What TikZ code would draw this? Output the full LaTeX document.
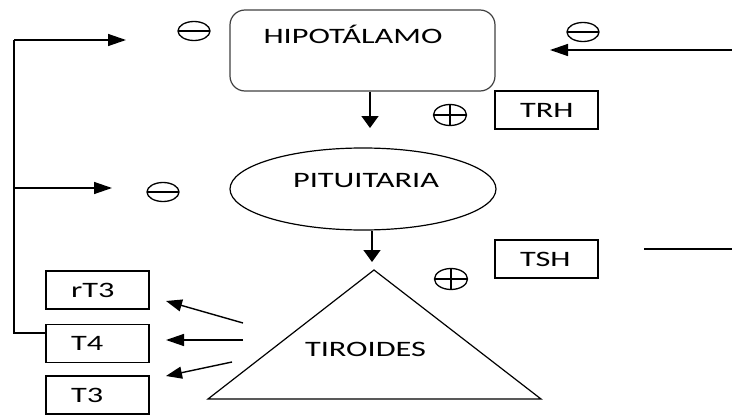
\documentclass[tikz,border=0pt]{standalone}
\usepackage{fontspec}
\newfontfamily\lblfont[FakeStretch=1.47]{Carlito}
\usetikzlibrary{arrows.meta,shapes.geometric}
\begin{document}
\begin{tikzpicture}[x=1pt,y=-1pt,
  lbl/.style={font=\lblfont\fontsize{22}{26}\selectfont, inner sep=0pt},
  labelbox/.style={draw, line width=1.7pt, text width=53pt, align=left, inner xsep=25pt, inner ysep=0pt, minimum height=38pt, font=\lblfont\fontsize{22}{26}\selectfont},
  symminus/.style={draw, ellipse, line width=1.3pt, minimum width=32pt, minimum height=19pt, inner sep=0pt,
    path picture={\draw[line width=1.5pt] (path picture bounding box.west) -- (path picture bounding box.east);}},
  symplus/.style={draw, ellipse, line width=1.3pt, minimum width=33pt, minimum height=21pt, inner sep=0pt,
    path picture={\draw[line width=1.5pt] (path picture bounding box.west) -- (path picture bounding box.east);
                  \draw[line width=1.5pt] (path picture bounding box.north) -- (path picture bounding box.south);}},
  harr/.style={line width=1.4pt, -{Triangle[length=18pt,width=12pt]}},
  varr/.style={line width=1.6pt, -{Triangle[length=12pt,width=17pt]}},
  darr/.style={line width=1.4pt, -{Triangle[length=16pt,width=12pt]}},
  plain/.style={line width=1.4pt}
]
\useasboundingbox (0,0) rectangle (732,415);

% main organs
\node[draw=black!75, line width=1.2pt, rounded corners=15pt, minimum width=265pt, minimum height=81pt, inner sep=0pt] (hip) at (362.5,50.5) {};
\node[lbl, anchor=base] (hipt) at (353,43) {HIPOTÁLAMO};

\node[draw, ellipse, line width=1.2pt, minimum width=266pt, minimum height=82pt, inner sep=0pt] (pit) at (363,189) {};
\node[lbl, anchor=base] (pitt) at (366,187) {PITUITARIA};

\coordinate (tapex) at (374,270);
\coordinate (tleft) at (208,399);
\coordinate (tright) at (541,399);
\draw[line width=1.2pt] (tleft) -- (tapex) -- (tright) -- cycle;
\node[lbl, anchor=base] (tirt) at (365.5,356) {TIROIDES};

% hormone boxes
\node[labelbox] (trh) at (546.5,110) {TRH};
\node[labelbox] (tsh) at (546.5,259) {TSH};
\node[labelbox] (rt3) at (97.5,290) {rT3};
\node[labelbox] (t4) at (97.5,343.5) {T4};
\node[labelbox] (t3) at (97.5,395) {T3};

% signs
\node[symminus] (sm1) at (194,31) {};
\node[symminus] (sm2) at (583,32) {};
\node[symminus] (sm3) at (163,192) {};
\node[symplus] (sp1) at (450,115) {};
\node[symplus] (sp2) at (451,279) {};

% vertical arrows
\coordinate (a1e) at (370,128);
\coordinate (a2e) at (372,262);
\draw[varr] (hip.south -| a1e) -- (a1e);
\draw[varr] (pit.south -| a2e) -- (a2e);

% feedback loop on the left
\coordinate (fbtop) at (14,40);
\coordinate (fbmid) at (14,188);
\coordinate (fbbot) at (14,333);
\coordinate (fa1) at (126,40);
\coordinate (fa2) at (112,188);
\draw[plain] (fbbot -| t4.west) -- (fbbot) -- (fbtop);
\draw[harr] (fbtop) -- (fa1);
\draw[harr] (fbmid) -- (fa2);

% right side
\coordinate (r1s) at (732,50);
\coordinate (r1e) at (550,50);
\draw[harr] (r1s) -- (r1e);
\coordinate (r2s) at (644,249);
\coordinate (r2e) at (732,249);
\draw[plain] (r2s) -- (r2e);

% thyroid outputs
\coordinate (ts1) at (243,323);
\coordinate (ts2) at (243,340);
\coordinate (ts3) at (232,362);
\coordinate (te1) at (166,301);
\coordinate (te2) at (166,340);
\coordinate (te3) at (166,376);
\draw[darr] (ts1) -- (te1);
\draw[harr] (ts2) -- (te2);
\draw[darr] (ts3) -- (te3);
\end{tikzpicture}
\end{document}
